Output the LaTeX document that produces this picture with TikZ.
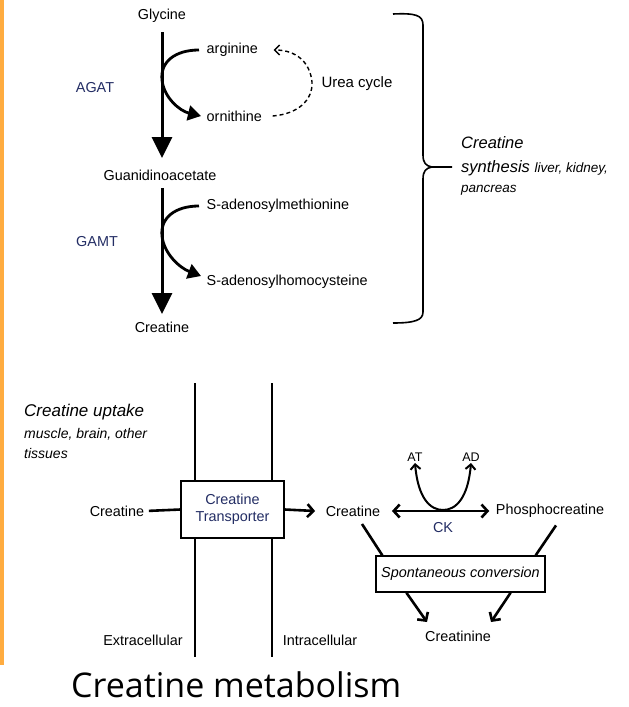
\documentclass[tikz,border=0pt]{standalone}
\usepackage{fontspec}
\setmainfont{Liberation Sans}
\newfontfamily\titlefont{Open Sans}
\usetikzlibrary{arrows.meta,calc}
\definecolor{navy}{RGB}{35,45,100}
\definecolor{barorange}{RGB}{255,172,64}
\begin{document}
\begin{tikzpicture}[x=1pt,y=-1pt,
  lbl/.style={font=\fontsize{14.4}{16}\selectfont, inner sep=1.5pt},
  enz/.style={lbl, text=navy},
  bigarrow/.style={line width=3pt, -{Triangle[width=20pt,length=21pt]}},
  curvearrow/.style={line width=2.8pt, -{Triangle[width=15pt,length=13pt]}},
  dasharrow/.style={line width=1.4pt, dash pattern=on 4pt off 3pt, -{Straight Barb[length=5pt,width=10pt,line width=1.4pt]}},
  barbline/.style={line width=2.6pt},
  barbarrow/.style={line width=2.6pt, -{Straight Barb[length=6pt,width=13pt]}},
  boxed/.style={draw, line width=1.3pt, fill=white},
  membrane/.style={line width=2.6pt}
]
\useasboundingbox (0,0) rectangle (629,707);
\fill[barorange] (0,0) rectangle (4,665);

% ---------- synthesis ----------
\node[lbl] (glycine) at (162,16) {Glycine};
\node[lbl, anchor=west] (arginine) at (205,50) {arginine};
\node[lbl, anchor=west] (ornithine) at (205,116) {ornithine};
\node[lbl] (guan) at (160,175) {Guanidinoacetate};
\node[lbl, anchor=west] (sam) at (205,206) {S-adenosylmethionine};
\node[lbl, anchor=west] (sah) at (205,282) {S-adenosylhomocysteine};
\node[lbl] (cre1) at (162,327) {Creatine};
\node[enz] (agat) at (95,88) {AGAT};
\node[enz] (gamt) at (97,242) {GAMT};
\node[lbl, font=\fontsize{15}{17}\selectfont] (urea) at (357,84) {Urea cycle};

\draw[bigarrow, shorten <=8pt, shorten >=10pt] (glycine.south) -- (glycine.south |- guan.north);
\draw[bigarrow, shorten <=6pt, shorten >=6pt] (glycine.south |- guan.south) -- (glycine.south |- cre1.north);

\draw[curvearrow] ([xshift=-6pt]arginine.west) .. controls (175,50) and (160,62) .. (162,80)
   .. controls (164,98) and (180,111) .. ([xshift=-4pt]ornithine.west);
\draw[curvearrow] ([xshift=-6pt]sam.west) .. controls (175,206) and (160,218) .. (162,236)
   .. controls (164,254) and (180,268) .. ([xshift=-4pt,yshift=6pt]sah.west);

\draw[dasharrow] ([xshift=9pt]ornithine.east) .. controls (298,114) and (313,100) .. (312,82)
   .. controls (310,62) and (296,50) .. ([xshift=14pt]arginine.east);

% brace
\draw[line width=1.6pt] (393,14) .. controls (415,13) and (423,15) .. (423,25) -- (423,155)
   .. controls (423,163) and (426,166) .. (432,167) -- (452,167);
\draw[line width=1.6pt] (432,167) .. controls (426,168) and (423,171) .. (423,179) -- (423,312)
   .. controls (423,320) and (415,323) .. (393,323);

\node[inner sep=0, anchor=base west, font=\fontsize{16.5}{18}\selectfont\itshape] (syn1) at (461,148) {Creatine};
\node[inner sep=0, anchor=base west, font=\itshape] (syn2) at (461,172) {\fontsize{16.5}{18}\selectfont synthesis \fontsize{13.5}{16}\selectfont liver, kidney,};
\node[inner sep=0, anchor=base west, font=\fontsize{13.5}{16}\selectfont\itshape] (syn3) at (461,192) {pancreas};

% ---------- uptake ----------
\node[inner sep=0, anchor=base west, font=\fontsize{17}{19}\selectfont\itshape] (up1) at (24,416) {Creatine uptake};
\node[inner sep=0, anchor=base west, font=\fontsize{14}{16}\selectfont\itshape] (up2) at (24,438) {muscle, brain, other};
\node[inner sep=0, anchor=base west, font=\fontsize{14}{16}\selectfont\itshape] (up3) at (24,458) {tissues};

\draw[membrane] (195,383) -- (195,657);
\draw[membrane] (272,383) -- (272,657);
\node[boxed, minimum width=103pt, minimum height=57pt, align=center, text=navy,
      font=\fontsize{14.4}{17}\selectfont, inner sep=0] (trans) at (232.5,509.5) {Creatine\\Transporter};

\node[lbl] (crext) at (117,511) {Creatine};
\node[lbl] (crint) at (353,511) {Creatine};
\node[lbl] (pcr) at (550,511) {Phosphocreatine};
\node[lbl, font=\fontsize{12.5}{14}\selectfont] (at) at (415,457) {AT};
\node[lbl, font=\fontsize{12.5}{14}\selectfont] (ad) at (471,457) {AD};
\node[enz] (ck) at (443,528) {CK};
\node[boxed, minimum width=169pt, minimum height=36pt, inner sep=0,
      font=\fontsize{14.4}{16}\selectfont\itshape] (spont) at (460.5,574) {Spontaneous conversion};
\node[lbl] (crn) at (458,636) {Creatinine};
\node[lbl] (extra) at (143,640) {Extracellular};
\node[lbl] (intra) at (320,640) {Intracellular};

\draw[barbline, shorten <=3pt] (crext.east) -- (trans.west);
\draw[barbarrow] (trans.east) -- ([xshift=-9pt]crint.west);
\draw[barbarrow, {Straight Barb[length=6pt,width=13pt]}-{Straight Barb[length=6pt,width=13pt]}]
   ([xshift=10pt]crint.east) -- ([xshift=-5pt]pcr.west);
\draw[line width=2pt, {Straight Barb[length=5pt,width=10pt]}-{Straight Barb[length=5pt,width=10pt]}]
   (at.south) .. controls (418,498) and (430,510) .. (443,510) .. controls (456,510) and (468,498) .. (ad.south);
\draw[barbline] ($(crint.south)+(9,6)$) -- ($(spont.north west)+(7,0)$);
\draw[barbline] ($(pcr.south)+(6,6)$) -- ($(spont.north east)+(-10,0)$);
\draw[barbarrow] ($(spont.south west)+(31,0)$) -- ($(crn.north)+(-31,-7)$);
\draw[barbarrow] ($(spont.south east)+(-35,0)$) -- ($(crn.north)+(33,-7)$);

% ---------- title ----------
\node[inner sep=0, anchor=base west, font=\titlefont\fontsize{34}{40}\selectfont] (title) at (71,697) {Creatine metabolism};
\end{tikzpicture}
\end{document}
